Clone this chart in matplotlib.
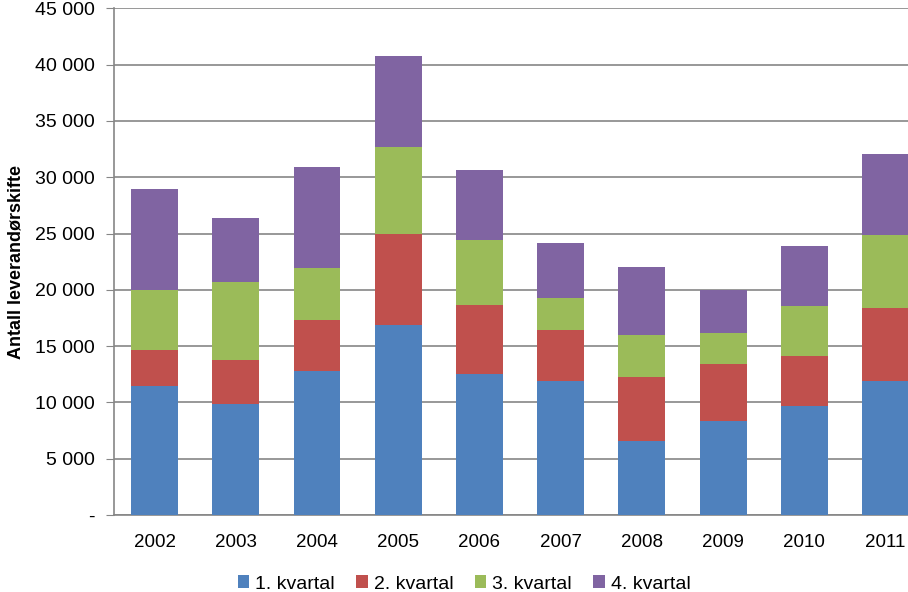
import matplotlib
matplotlib.use("Agg")
import matplotlib.pyplot as plt
import numpy as np

years = ["2002", "2003", "2004", "2005", "2006", "2007", "2008", "2009", "2010", "2011"]
# cumulative tops
q1 = [11500, 9850, 12800, 16900, 12550, 11900, 6550, 8350, 9700, 11900]
top2 = [14650, 13770, 17320, 24980, 18650, 16430, 12260, 13410, 14120, 18380]
top3 = [20000, 20690, 21940, 32680, 24420, 19270, 15990, 16160, 18560, 24870]
top4 = [28950, 26380, 30900, 40760, 30640, 24160, 22020, 20010, 23890, 32060]
q2 = [b - a for a, b in zip(q1, top2)]
q3 = [b - a for a, b in zip(top2, top3)]
q4 = [b - a for a, b in zip(top3, top4)]
series_names = ["1. kvartal", "2. kvartal", "3. kvartal", "4. kvartal"]
colors = ["#4F81BD", "#C0504D", "#9BBB59", "#8064A2"]
yticks = [0, 5000, 10000, 15000, 20000, 25000, 30000, 35000, 40000, 45000]

plt.rcParams['font.family'] = ['Liberation Sans', 'DejaVu Sans']

fig = plt.figure(figsize=(9.08, 5.92), dpi=100)
ax = fig.add_axes([114/908, 1 - 515/592, 1 - 114/908 + 0.02, (515 - 8.3)/592])

x = np.arange(len(years))
w = 0.577
bottom = np.zeros(len(years))
for vals, c, name in zip([q1, q2, q3, q4], colors, series_names):
    ax.bar(x, vals, w, bottom=bottom, color=c, label=name, zorder=3)
    bottom += np.array(vals)

ax.set_ylim(0, 45000)
ax.set_xlim(-0.5, 9.5)
ax.set_yticks(yticks)
ax.set_yticklabels(["-" if v == 0 else f"{v:,}".replace(",", " ") for v in yticks])
ax.set_xticks(x)
ax.set_xticklabels(years)
ax.yaxis.grid(True, color="#868686", linewidth=1.2, zorder=0)
ax.set_axisbelow(True)
for s in ["top", "right"]:
    ax.spines[s].set_visible(False)
for s in ["left", "bottom"]:
    ax.spines[s].set_color("#868686")
    ax.spines[s].set_linewidth(1.2)
ax.tick_params(axis="y", length=6, color="#868686", labelsize=14, pad=8)
ax.tick_params(axis="x", length=0, labelsize=13.5, pad=14)
ax.set_ylabel("Antall leverandørskifte", fontsize=13, fontweight="bold", labelpad=7)

handles, labels = ax.get_legend_handles_labels()
fig.legend(handles, labels, loc="center", bbox_to_anchor=(464/908, 1 - 584/592), ncol=4,
           frameon=False, fontsize=14, handlelength=0.6, handleheight=0.6,
           handletextpad=0.3, columnspacing=1.1)

fig.savefig("out.png", dpi=100)
